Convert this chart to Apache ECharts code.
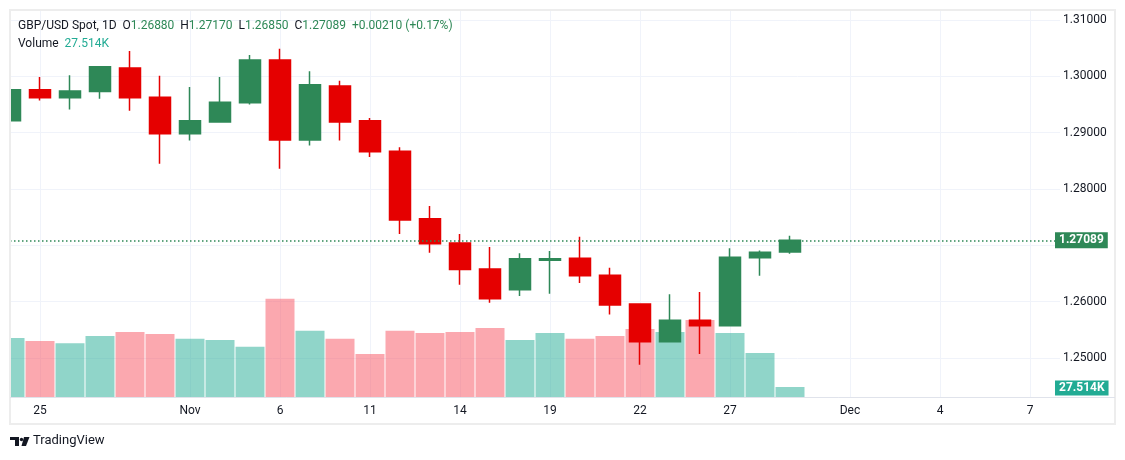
<!DOCTYPE html>
<html><head><meta charset="utf-8">
<script src="https://cdn.jsdelivr.net/npm/echarts@6/dist/echarts.min.js"></script>
<style>html,body{margin:0;padding:0;background:#fff}#c{width:1125px;height:460px}</style>
</head><body><div id="c"></div>
<script>
const symbolName = 'GBP/USD Spot, 1D';
const tradingDays = ['2024-10-24','2024-10-25','2024-10-28','2024-10-29','2024-10-30','2024-10-31','2024-11-01',
  '2024-11-04','2024-11-05','2024-11-06','2024-11-07','2024-11-08','2024-11-11','2024-11-12','2024-11-13',
  '2024-11-14','2024-11-15','2024-11-18','2024-11-19','2024-11-20','2024-11-21','2024-11-22','2024-11-25',
  '2024-11-26','2024-11-27','2024-11-28','2024-11-29'];
const futureDays = ['2024-11-30','2024-12-01','2024-12-02','2024-12-03','2024-12-04','2024-12-05','2024-12-06','2024-12-07','2024-12-08'];
const opens  = [1.2921,1.2976,1.2962,1.2973,1.3015,1.2963,1.2898,1.2919,1.2953,1.3029,1.2887,1.2983,1.2921,1.2867,1.2747,1.2704,1.2658,1.2621,1.26735,1.2677,1.2647,1.2596,1.2529,1.2567,1.2557,1.2678,1.26880];
const highs  = [1.2977,1.2999,1.3002,1.3018,1.3045,1.3001,1.2981,1.2999,1.3038,1.3049,1.3009,1.2992,1.2926,1.2874,1.2770,1.2720,1.2697,1.2686,1.2690,1.2715,1.2660,1.2597,1.2613,1.2617,1.2695,1.2691,1.27170];
const lows   = [1.2920,1.2957,1.2941,1.2960,1.2939,1.2845,1.2886,1.2919,1.2950,1.2836,1.2877,1.2886,1.2857,1.2720,1.2687,1.2630,1.2598,1.2610,1.2614,1.2633,1.2577,1.2488,1.2528,1.2507,1.2556,1.2646,1.26850];
const closes = [1.2976,1.2962,1.2974,1.3017,1.2962,1.2898,1.2921,1.2954,1.3029,1.2887,1.2985,1.2919,1.2866,1.2745,1.2703,1.2657,1.2605,1.2676,1.2676,1.2646,1.2594,1.2529,1.2567,1.2557,1.2679,1.26879,1.27089];
const volumesK = [162,154,148,168,179,173,160,157,138,270,182,160,118,182,176,179,190,157,176,160,168,187,179,212,176,121,27.514];
const tickDates  = ['2024-10-25','2024-11-01','2024-11-06','2024-11-11','2024-11-14','2024-11-19','2024-11-22','2024-11-27','2024-12-01','2024-12-04','2024-12-07'];
const tickLabels = ['25','Nov','6','11','14','19','22','27','Dec','4','7'];

const UP = '#2e8857', DOWN = '#e50000';
const VUP = 'rgba(34,171,148,0.5)', VDOWN = 'rgba(247,82,95,0.5)';
const FONT = 'Roboto, "Noto Sans", sans-serif';
const TXT = '#131722';

const categories = tradingDays.concat(futureDays);
const n = tradingDays.length;
const candleData = categories.map((d, i) => i < n ? [opens[i], closes[i], lows[i], highs[i]] : '-');
const volData = categories.map((d, i) => i < n ? {
  value: volumesK[i], itemStyle: { color: closes[i] >= opens[i] ? VUP : VDOWN }
} : '-');
const tickIdx = {};
tickDates.forEach((d, k) => { tickIdx[d] = tickLabels[k]; });
const isTick = (i, v) => tickIdx[v] !== undefined;

const lo = opens[n-1], lh = highs[n-1], ll = lows[n-1], lc = closes[n-1];
const chg = lc - closes[n-2];
const pct = chg / closes[n-2] * 100;
const sgn = x => (x >= 0 ? '+' : '−');
const header = `{d|${symbolName}}  {d|O}{g|${lo.toFixed(5)}}  {d|H}{g|${lh.toFixed(5)}}  {d|L}{g|${ll.toFixed(5)}}  {d|C}{g|${lc.toFixed(5)}}  {g|${sgn(chg)}${Math.abs(chg).toFixed(5)} (${sgn(pct)}${Math.abs(pct).toFixed(2)}%)}`;
const volText = `{d|Volume}  {t|${volumesK[n-1].toFixed(3)}K}`;

const FS = 12;
const chart = echarts.init(document.getElementById('c'));
chart.setOption({
  animation: false,
  backgroundColor: '#ffffff',
  title: [
    { left: 18, top: 20, padding: 0, text: header, textStyle: { fontFamily: FONT, fontSize: FS, fontWeight: 'normal',
      rich: { d: { color: TXT, fontFamily: FONT, fontSize: FS }, g: { color: UP, fontFamily: FONT, fontSize: FS } } } },
    { left: 18, top: 38, padding: 0, text: volText, textStyle: { fontFamily: FONT, fontSize: FS, fontWeight: 'normal',
      rich: { d: { color: TXT, fontFamily: FONT, fontSize: FS }, t: { color: '#22ab94', fontFamily: FONT, fontSize: FS } } } }
  ],
  grid: { left: 10, right: 65, top: 10, bottom: 63, containLabel: false },
  xAxis: {
    type: 'category', data: categories, boundaryGap: false,
    axisLine: { show: false }, axisTick: { show: false },
    axisLabel: { interval: isTick, formatter: v => tickIdx[v] || '', color: TXT, fontFamily: FONT, fontSize: 12, margin: 8 },
    splitLine: { show: true, interval: isTick, lineStyle: { color: '#f0f3fa', width: 1 } }
  },
  yAxis: [
    { type: 'value', position: 'right', scale: true, min: 1.243073, max: 1.311775, splitNumber: 7,
      axisLine: { show: false }, axisTick: { show: false },
      axisLabel: { showMinLabel: false, showMaxLabel: false, color: TXT, fontFamily: FONT, fontSize: 12, margin: 3,
        formatter: v => v.toFixed(5) },
      splitLine: { show: true, lineStyle: { color: '#f0f3fa', width: 1 } } },
    { type: 'value', show: false, min: 0, max: 1064, splitLine: { show: false } }
  ],
  series: [
    { type: 'bar', name: 'Volume', yAxisIndex: 1, barWidth: 29, data: volData, silent: true, z: 1, clip: true,
      markLine: { symbol: ['none','none'], silent: true, precision: 5, data: [{ yAxis: volumesK[n-1] }],
        lineStyle: { color: 'rgba(0,0,0,0)', width: 0 },
        label: { show: true, position: 'end', distance: -5, offset: [0, 1], formatter: () => volumesK[n-1].toFixed(3) + 'K',
          backgroundColor: '#22ab94', color: '#fff', fontWeight: 'bold', fontFamily: FONT, fontSize: 12, padding: [2, 4, 1, 4] } } },
    { type: 'candlestick', name: symbolName, yAxisIndex: 0, barWidth: 22, data: candleData, z: 3, clip: true,
      itemStyle: { color: UP, color0: DOWN, borderColor: UP, borderColor0: DOWN, borderWidth: 1.5 },
      markLine: { symbol: ['none','none'], silent: true, precision: 5, data: [{ yAxis: lc }],
        lineStyle: { color: UP, type: [1.5, 2.5], width: 1.5 },
        label: { position: 'end', distance: -5, formatter: () => lc.toFixed(5),
          backgroundColor: UP, color: '#fff', fontWeight: 'bold', fontFamily: FONT, fontSize: 12, padding: [3, 4, 1, 4] } } }
  ],
  graphic: [
    { type: 'rect', shape: { x: 0, y: 0, width: 10, height: 460 }, style: { fill: '#ffffff' }, silent: true, z: 100 },
    { type: 'rect', shape: { x: 10, y: 10, width: 1105, height: 414 }, style: { fill: 'none', stroke: '#ededed', lineWidth: 2 }, silent: true, z: 101 },
    { type: 'line', shape: { x1: 10, y1: 397.5, x2: 1115, y2: 397.5 }, style: { stroke: '#e0e3eb', lineWidth: 1 }, silent: true, z: 101 },
    { type: 'rect', shape: { x: 10, y: 437, width: 9, height: 3 }, style: { fill: TXT }, silent: true, z: 101 },
    { type: 'rect', shape: { x: 15, y: 437, width: 4, height: 9 }, style: { fill: TXT }, silent: true, z: 101 },
    { type: 'circle', shape: { cx: 21.5, cy: 439.5, r: 1.7 }, style: { fill: TXT }, silent: true, z: 101 },
    { type: 'polygon', shape: { points: [[24, 437], [29.5, 437], [26, 446], [21.5, 446]] }, style: { fill: TXT }, silent: true, z: 101 },
    { type: 'text', left: 33, top: 434, style: { text: 'TradingView', fill: TXT, font: '13px ' + FONT }, silent: true, z: 101 }
  ]
});
</script></body></html>
